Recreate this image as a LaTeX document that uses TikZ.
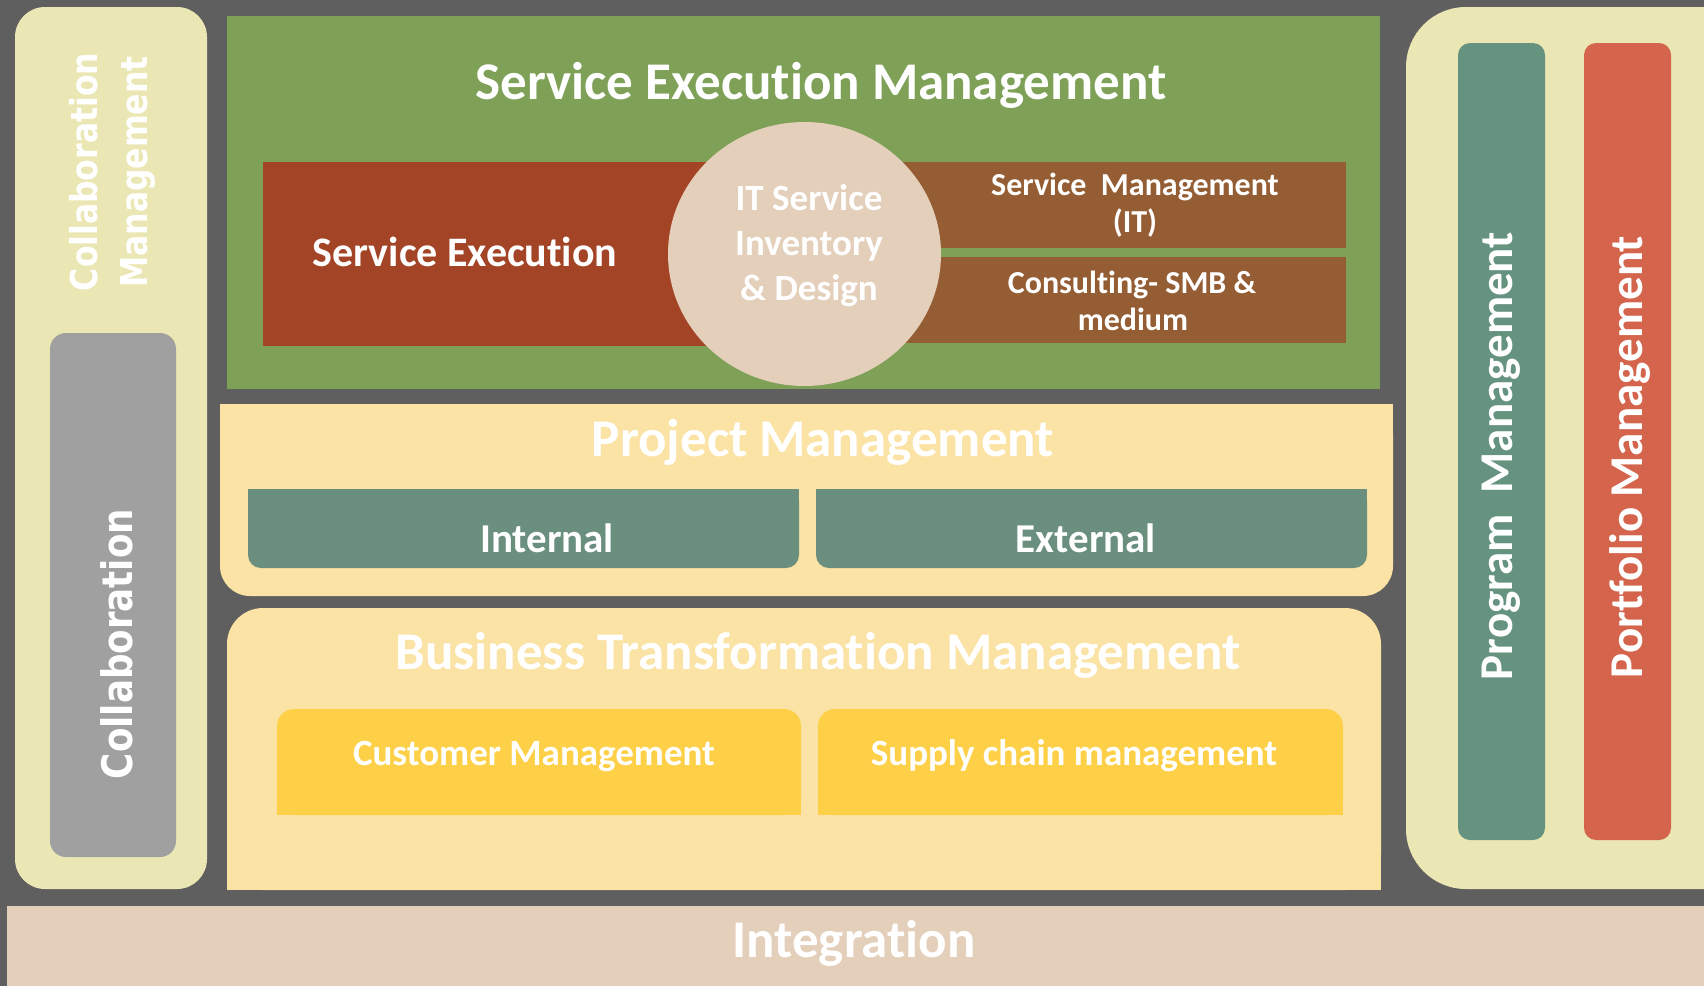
\documentclass[tikz,border=0pt]{standalone}
\usepackage{fontspec}
\setmainfont{Carlito}[Ligatures={NoCommon,NoContextual}]
\newfontfamily\vfont[FakeStretch=0.85]{DejaVu Sans}
\definecolor{bgc}{HTML}{5F5F5F}
\definecolor{panelc}{HTML}{EBE7B5}
\definecolor{grayc}{HTML}{A0A0A0}
\definecolor{greenc}{HTML}{7EA157}
\definecolor{redc}{HTML}{A34426}
\definecolor{brownc}{HTML}{955D33}
\definecolor{beigec}{HTML}{E3CFBA}
\definecolor{yellowc}{HTML}{FAE3A5}
\definecolor{tealc}{HTML}{6B8F7E}
\definecolor{goldc}{HTML}{FDD048}
\definecolor{progc}{HTML}{66937F}
\definecolor{portc}{HTML}{D4644C}
\tikzset{
  txt/.style={text=white, inner sep=0pt, anchor=base},
  fs/.style={font=\fontsize{#1}{#1}\selectfont\bfseries},
  vs/.style={font=\vfont\fontsize{#1}{#1}\selectfont\bfseries},
}
\begin{document}
\begin{tikzpicture}[x=1pt,y=-1pt]
\useasboundingbox (0,0) rectangle (1704,986);
\fill[bgc] (0,0) rectangle (1704,986);

% left panel
\fill[panelc, rounded corners=30pt] (15,7) rectangle (207,889);
\fill[grayc, rounded corners=16pt] (50,333) rectangle (176,857);
\node[txt, vs=37, rotate=90] (cm1) at (97,172) {Collaboration};
\node[txt, vs=37, rotate=90] (cm2) at (147,172) {Management};
\node[txt, vs=42, rotate=90] (collab) at (132,644) {Collaboration};

% right panel
\fill[panelc, rounded corners=60pt] (1406,7) rectangle (1780,889);
\fill[progc, rounded corners=12pt] (1458,43) rectangle (1545,840);
\fill[portc, rounded corners=12pt] (1584,43) rectangle (1671,840);
\node[txt, fs=47, rotate=90] (prog) at (1512,456) {Program~ Management};
\node[txt, fs=47, rotate=90] (port) at (1642,457) {Portfolio Management};

% service execution management
\fill[greenc] (227,16) rectangle (1380,389);
\fill[redc] (263,162) rectangle (760,346);
\fill[brownc] (760,162) rectangle (1346,248);
\fill[brownc] (760,257) rectangle (1346,343);
\fill[beigec] (804.5,254) ellipse [x radius=136.5pt, y radius=132pt];
\node[txt, fs=53] (sem) at (821,99) {Service Execution Management};
\node[txt, fs=42] (se) at (465,266) {Service Execution};
\node[txt, fs=37] (it1) at (809,210) {IT Service};
\node[txt, fs=37] (it2) at (809,255) {Inventory};
\node[txt, fs=37] (it3) at (809,300) {\& Design};
\node[txt, fs=32] (sm1) at (1135,195) {Service~ Management};
\node[txt, fs=32] (sm2) at (1135,232) {(IT)};
\node[txt, fs=32] (cs1) at (1132,293) {Consulting- SMB \&};
\node[txt, fs=32] (cs2) at (1133,330) {medium};

% project management
\fill[yellowc, rounded corners=30pt] (220,404) rectangle (1393,596);
\fill[yellowc] (220,404) rectangle (1393,500);
\fill[tealc, rounded corners=13pt] (248,489) rectangle (799,568);
\fill[tealc] (248,489) rectangle (799,530);
\fill[tealc, rounded corners=13pt] (816,489) rectangle (1367,568);
\fill[tealc] (816,489) rectangle (1367,530);
\node[txt, fs=53] (pm) at (823,456) {Project Management};
\node[txt, fs=41] (int) at (547,552) {Internal};
\node[txt, fs=41] (ext) at (1086,552) {External};

% business transformation management
\fill[yellowc, rounded corners=36pt] (227,608) rectangle (1381,890);
\fill[yellowc] (227,700) rectangle (1381,890);
\fill[goldc, rounded corners=17pt] (277,709) rectangle (801,815);
\fill[goldc] (277,760) rectangle (801,815);
\fill[goldc, rounded corners=17pt] (818,709) rectangle (1343,815);
\fill[goldc] (818,760) rectangle (1343,815);
\node[txt, fs=53] (bt) at (818,669) {Business Transformation Management};
\node[txt, fs=37] (cust) at (534,765) {Customer Management};
\node[txt, fs=37] (sup) at (1074,765) {Supply chain management};

% integration
\fill[beigec] (7,906) rectangle (1704,986);
\node[txt, fs=53] (integ) at (854,957) {Integration};
\end{tikzpicture}
\end{document}
